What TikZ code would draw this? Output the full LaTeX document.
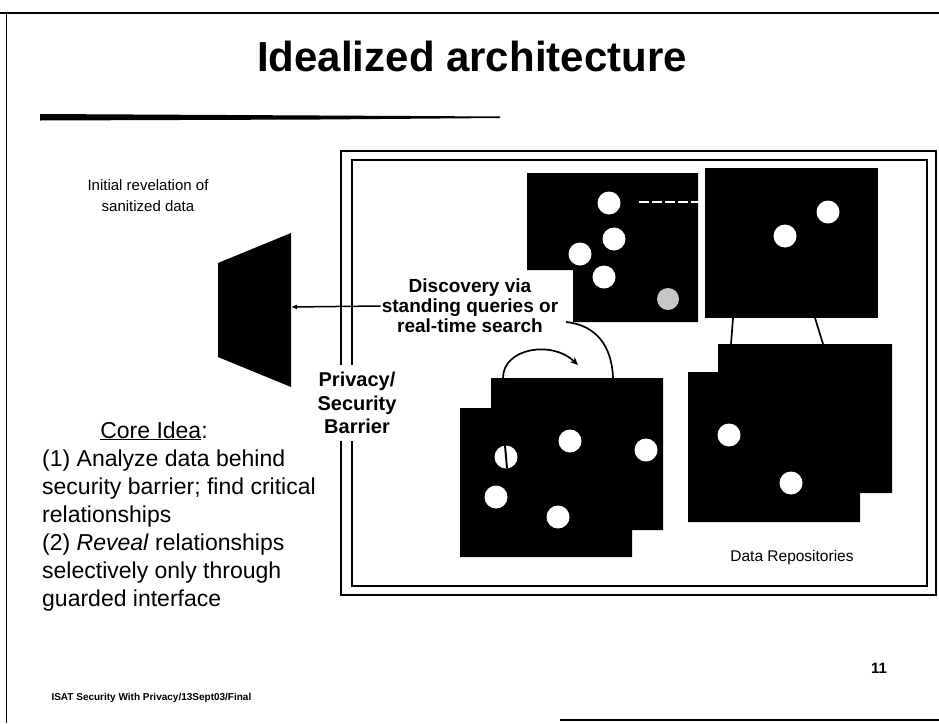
\documentclass[tikz,border=0pt]{standalone}
\usepackage{fontspec}
\setmainfont{Liberation Sans}
\usetikzlibrary{arrows.meta}
\begin{document}
\begin{tikzpicture}[x=1pt,y=-1pt,
  repo/.style={fill=black},
  wdot/.style={circle,fill=white,draw=none,minimum size=23pt,inner sep=0pt},
  sdot/.style={circle,fill=gray!45,draw=none,minimum size=22pt,inner sep=0pt},
  conn/.style={line width=1.7pt},
  frameline/.style={line width=1.3pt},
  bodytxt/.style={font=\fontsize{23}{28}\selectfont,anchor=base west,inner sep=0pt},
  labtxt/.style={font=\fontsize{19}{20}\selectfont\bfseries,align=center},
  smalltxt/.style={font=\fontsize{15}{21}\selectfont,align=center}]
\useasboundingbox (0,0) rectangle (939,723);
% page border
\draw[line width=1.4pt] (0,13) -- (939,13);
\draw[line width=1pt] (6,13) -- (6,723);
\draw[line width=1.6pt] (560,720) -- (939,720);
% title and rule
\node[font=\fontsize{42}{48}\selectfont\bfseries] (title) at (472,56) {Idealized architecture};
\fill (40,114) -- (320,115.5) -- (500,116.5) -- (500,118) -- (320,119.5) -- (40,120.5) -- cycle;
% frame
\draw[frameline] (341,151) rectangle (936,595);
\draw[frameline] (352,160) rectangle (927,586);
% repositories
\fill[repo] (527,173) -- (698,173) -- (698,322) -- (573,322) -- (573,270) -- (527,270) -- cycle;
\fill[repo] (705,168) rectangle (878,318);
\fill[repo] (491,378) -- (663,378) -- (663,530) -- (632,530) -- (632,557) -- (460,557) -- (460,408) -- (491,408) -- cycle;
\fill[repo] (718,344) -- (892,344) -- (892,493) -- (860,493) -- (860,522) -- (688,522) -- (688,372) -- (718,372) -- cycle;
% coordinates on repositories
\coordinate (aBL) at (566,322);
\coordinate (aR) at (705,202);
\coordinate (bB1) at (733,318);
\coordinate (bB2) at (815,318);
\coordinate (dT1) at (731,344);
\coordinate (dT2) at (823,344);
\coordinate (cT1) at (613,378);
\coordinate (cT2) at (503,378);
\coordinate (cHead) at (578,365);
% dots in A
\node[wdot] (a1) at (609,203) {};
\node[wdot] (a2) at (614,239) {};
\node[wdot] (a3) at (580,254) {};
\node[wdot] (a4) at (604,277) {};
\node[sdot] (a5) at (668,299) {};
% dots in B
\node[wdot] (b1) at (828,212) {};
\node[wdot] (b2) at (785,236) {};
% dots in C
\node[wdot] (c1) at (570,441) {};
\node[wdot] (c2) at (646,450) {};
\node[wdot] (c3) at (506,457) {};
\node[wdot] (c4) at (496,497) {};
\node[wdot] (c5) at (558,517) {};
\draw[line width=2pt] (c3.north) ++(-1,0) -- ++(2,23);
% dots in D
\node[wdot] (d1) at (729,435) {};
\node[wdot] (d2) at (791,483) {};
% connectors between repositories
\draw[white,line width=1.2pt,dash pattern=on 10pt off 3pt] (a1.east) ++(18,-1) -- (aR);
\draw[conn] (bB1) -- (dT1);
\draw[conn] (bB2) -- (dT2);
\draw[conn] (aBL) .. controls (596,325) and (612,346) .. (cT1);
\draw[conn,-{Stealth[length=8pt,width=7pt]}] (cT2) .. controls (503,348) and (552,340) .. (cHead);
% screen (trapezoid)
\fill (218,263) -- (291,233) -- (291,387) -- (218,357) -- cycle;
\coordinate (scr) at (291,307);
% labels
\node[smalltxt] (init) at (148,196) {Initial revelation of\\sanitized data};
\node[labtxt,inner sep=1pt] (disc) at (470,306) {Discovery via\\standing queries or\\real-time search};
\draw[line width=1.5pt,-{Latex[length=6pt,width=5pt]}] (disc.west) -- (scr);
\node[labtxt,font=\fontsize{20}{23.5}\selectfont\bfseries,fill=white,inner xsep=3pt,inner ysep=7pt] (priv) at (357,403) {Privacy/\\Security\\Barrier};
\node[font=\fontsize{15.5}{18}\selectfont] (repos) at (792,557) {Data Repositories};
% core idea
\node[bodytxt,anchor=base] (core) at (154,438) {\underline{Core Idea}:};
\node[bodytxt] (l1) at (42,466) {(1) Analyze data behind};
\node[bodytxt] (l2) at (42,494) {security barrier; find critical};
\node[bodytxt] (l3) at (42,522) {relationships};
\node[bodytxt] (l4) at (42,550) {(2) \textit{Reveal} relationships};
\node[bodytxt] (l5) at (42,578) {selectively only through};
\node[bodytxt] (l6) at (42,606) {guarded interface};
% footer
\node[font=\fontsize{10}{12}\selectfont\bfseries,anchor=west] (foot) at (48,698) {ISAT Security With Privacy/13Sept03/Final};
\node[font=\fontsize{15}{18}\selectfont\bfseries] (pg) at (879,668) {11};
\end{tikzpicture}
\end{document}
